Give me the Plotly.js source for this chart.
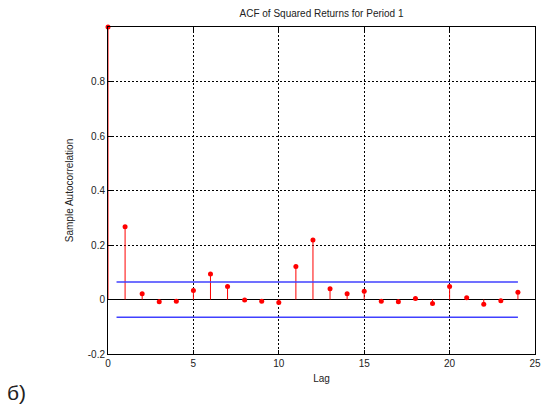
<!DOCTYPE html>
<html>
<head>
<meta charset="utf-8">
<script src="https://cdn.plot.ly/plotly-3.0.1.min.js"></script>
<style>html,body{margin:0;padding:0;background:#fff;}#chart{width:552px;height:407px;}</style>
</head>
<body>
<div id="chart"></div>
<script>
var lags = [0,1,2,3,4,5,6,7,8,9,10,11,12,13,14,15,16,17,18,19,20,21,22,23,24];
var acf = [1.0,0.267,0.021,-0.008,-0.006,0.033,0.094,0.048,-0.002,-0.006,-0.011,0.121,0.218,0.039,0.021,0.030,-0.006,-0.008,0.004,-0.015,0.048,0.006,-0.017,-0.005,0.027];
var boundX = [0.5, 24];
var boundUpper = 0.064;
var boundLower = -0.065;
var yTicks = [-0.2,0,0.2,0.4,0.6,0.8];
var xTicks = [0,5,10,15,20,25];

var stemX = [], stemY = [];
lags.forEach(function(l,i){ stemX.push(l,l,null); stemY.push(0,acf[i],null); });

var traces = [
  {x: stemX, y: stemY, mode:'lines', line:{color:'#ff0000', width:1}, hoverinfo:'skip', cliponaxis:false},
  {x: lags, y: acf, mode:'markers', marker:{color:'#ff0000', size:5}, cliponaxis:false},
  {x: boundX, y:[boundUpper,boundUpper], mode:'lines', line:{color:'#4040ff', width:1.5}},
  {x: boundX, y:[boundLower,boundLower], mode:'lines', line:{color:'#4040ff', width:1.5}}
];

var font = {family:'Liberation Sans, Arial, sans-serif', size:10, color:'#222'};
var layout = {
  width:552, height:407,
  margin:{l:108, r:17, t:27, b:52.5, pad:0},
  paper_bgcolor:'#fff', plot_bgcolor:'#fff',
  showlegend:false,
  font: font,
  title:{text:'ACF of Squared Returns for Period 1', font:{family:font.family, size:10, color:'#222'}, x:0.5, xref:'paper', y:1-13/407, yref:'container', yanchor:'middle'},
  xaxis:{range:[0,25], tickvals:xTicks, ticktext:xTicks.map(String), showgrid:true, gridcolor:'#000', griddash:'2px,2px', gridwidth:1,
         zeroline:false, showline:true, linecolor:'#000', linewidth:1, mirror:'ticks', ticks:'inside', ticklen:4, tickcolor:'#000',
         tickfont:{family:font.family, size:10, color:'#222'},
         title:{text:'Lag', font:{family:font.family, size:10, color:'#222'}, standoff:6}},
  yaxis:{range:[-0.2,1], tickvals:yTicks, ticktext:['-0.2','0','0.2','0.4','0.6','0.8'], showgrid:true, gridcolor:'#000', griddash:'2px,2px', gridwidth:1,
         zeroline:true, zerolinecolor:'#000', zerolinewidth:1, showline:true, linecolor:'#000', linewidth:1, mirror:'ticks', ticks:'inside', ticklen:4, tickcolor:'#000',
         tickfont:{family:font.family, size:10, color:'#222'},
         title:{text:'Sample Autocorrelation', font:{family:font.family, size:10, color:'#222'}, standoff:12}},
  annotations:[{text:'б)', xref:'paper', yref:'paper', x:(5-108)/427, y:(354.5-393)/327.5, xanchor:'left', yanchor:'middle', showarrow:false, font:{family:font.family, size:21, color:'#222'}}]
};
Plotly.newPlot('chart', traces, layout, {displayModeBar:false, staticPlot:true});
</script>
</body>
</html>
